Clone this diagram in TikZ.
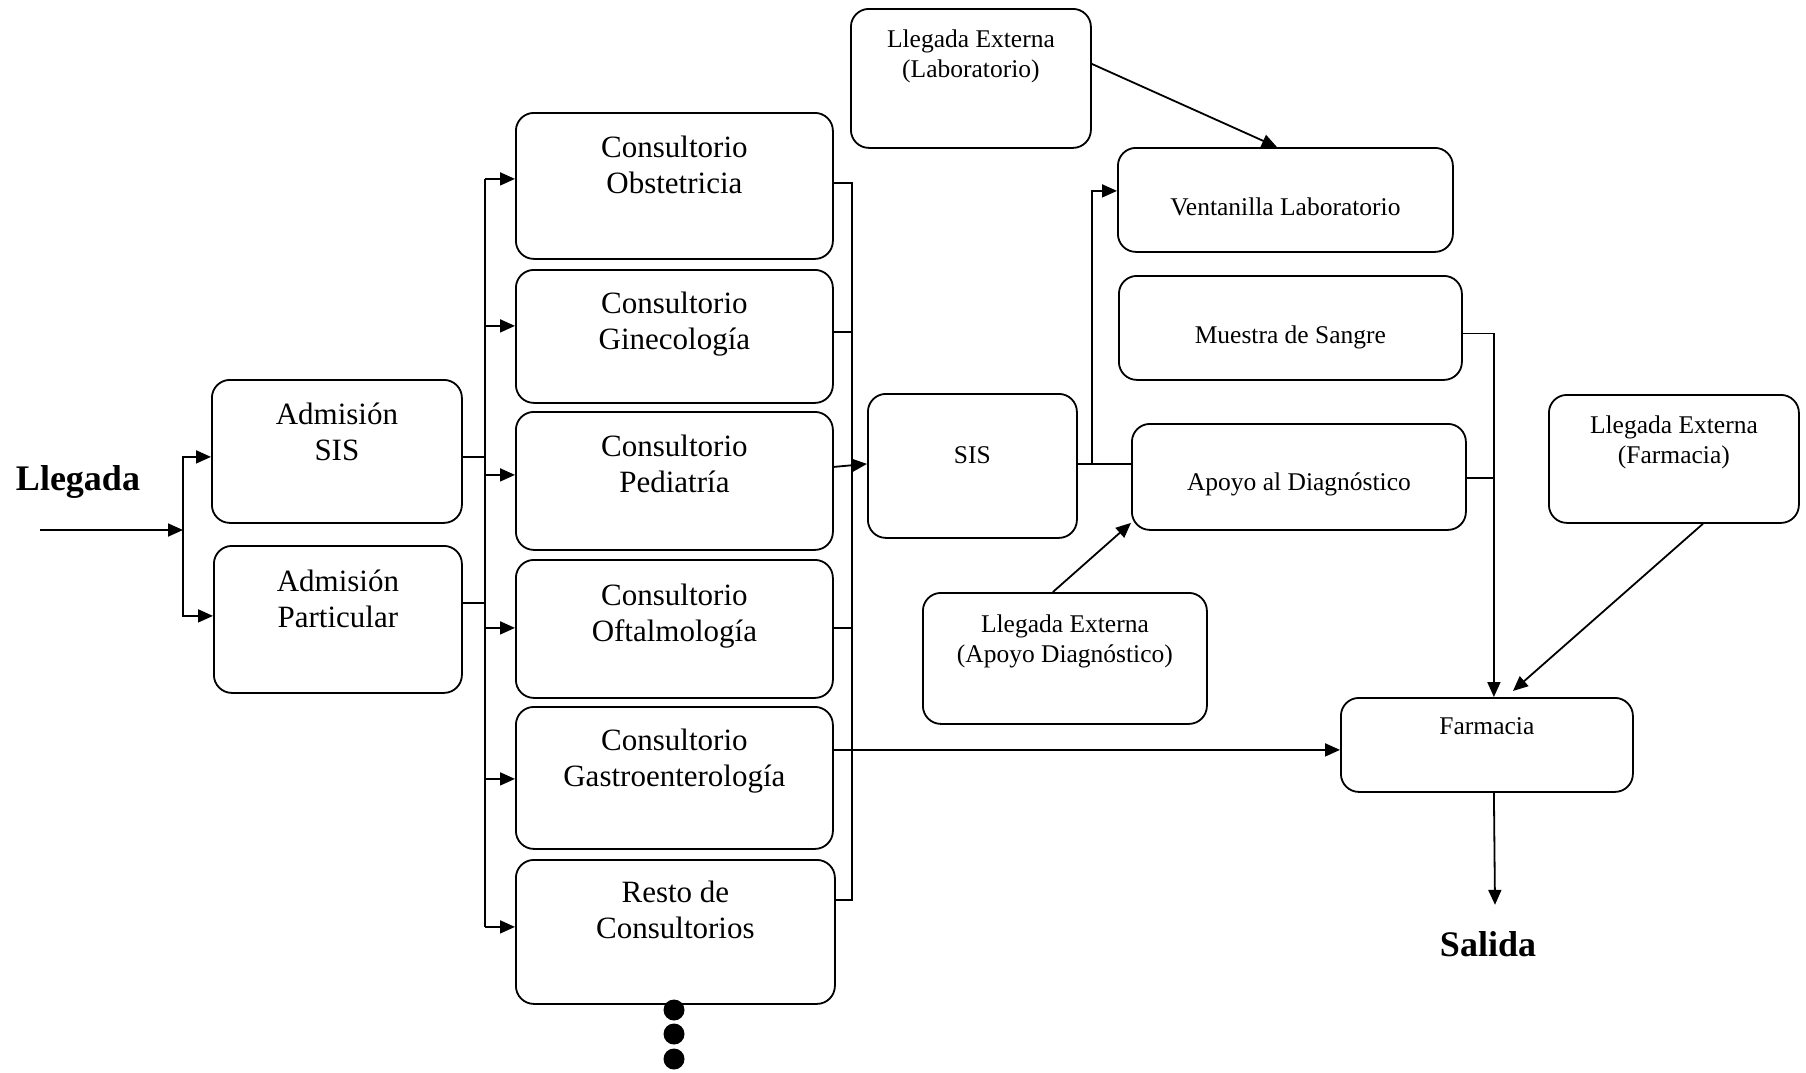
\documentclass[tikz,border=0pt]{standalone}
\usepackage{fontspec}
\setmainfont{Liberation Serif}
\usetikzlibrary{arrows.meta}
\newcommand{\bxt}[4]{\parbox[t][#2pt][t]{#1pt}{\centering\rule{0pt}{#3pt}#4}}
\begin{document}
\begin{tikzpicture}[x=1pt,y=-1pt,
  box/.style={draw, line width=1.8pt, rounded corners=18pt, inner sep=0pt, anchor=north west},
  big/.style={box, font=\fontsize{31}{36}\selectfont},
  small/.style={box, font=\fontsize{25.5}{30}\selectfont},
  ttl/.style={font=\bfseries\fontsize{36}{40}\selectfont, inner sep=0pt, anchor=base},
  ln/.style={line width=1.8pt},
  arr/.style={ln, -{Triangle[length=15pt,width=13pt]}}]
\useasboundingbox (0,0) rectangle (1806,1072);

% nodes
\node[big] (admsis) at (211,379) {\bxt{250}{143}{45}{Admisión\\SIS}};
\node[big] (admpart) at (213,545) {\bxt{248}{147}{46}{Admisión\\Particular}};
\node[big] (obst) at (515,112) {\bxt{317}{146}{45}{Consultorio\\Obstetricia}};
\node[big] (gine) at (515,269) {\bxt{317}{133}{44}{Consultorio\\Ginecología}};
\node[big] (pedi) at (515,411) {\bxt{317}{138}{45}{Consultorio\\Pediatría}};
\node[big] (ofta) at (515,559) {\bxt{317}{138}{46}{Consultorio\\Oftalmología}};
\node[big] (gast) at (515,706) {\bxt{317}{142}{44}{Consultorio\\Gastroenterología}};
\node[big] (resto) at (515,859) {\bxt{319}{144}{43}{Resto de\\Consultorios}};
\node[small] (sis) at (867,393) {\bxt{209}{144}{70}{SIS}};
\node[small] (lleglab) at (850,8) {\bxt{240}{139}{39}{Llegada Externa\\(Laboratorio)}};
\node[small] (vent) at (1117,147) {\bxt{335}{104}{68}{Ventanilla Laboratorio}};
\node[small] (muestra) at (1118,275) {\bxt{343}{104}{68}{Muestra de Sangre}};
\node[small] (apoyo) at (1131,423) {\bxt{334}{106}{67}{Apoyo al Diagnóstico}};
\node[small] (llegapo) at (922,592) {\bxt{284}{131}{40}{Llegada Externa\\(Apoyo Diagnóstico)}};
\node[small] (llegfarm) at (1548,394) {\bxt{250}{128}{39}{Llegada Externa\\(Farmacia)}};
\node[small] (farm) at (1340,697) {\bxt{292}{94}{37}{Farmacia}};
\node[ttl] (llegada) at (78,490) {Llegada};
\node[ttl] (salida) at (1488,956) {Salida};

% input
\coordinate (start) at (40,530);
\coordinate (j1) at (183,530);
\draw[arr] (start) -- (j1);
\draw[arr] (j1) |- ([yshift=-5.5pt]admsis.west);
\draw[arr] (j1) |- ([yshift=3.5pt]admpart.west);

% left bus
\coordinate (busL) at (485,0);
\draw[ln] ([yshift=-5.5pt]admsis.east) -- ([yshift=-5.5pt]admsis.east -| busL);
\draw[ln] ([yshift=16.5pt]admpart.east) -- ([yshift=16.5pt]admpart.east -| busL);
\draw[ln] ([yshift=7pt]obst.west -| busL) -- ([yshift=5pt]resto.west -| busL);
\draw[arr] ([yshift=7pt]obst.west -| busL) -- ([yshift=7pt]obst.west);
\draw[arr] ([yshift=10.5pt]gine.west -| busL) -- ([yshift=10.5pt]gine.west);
\draw[arr] ([yshift=6pt]pedi.west -| busL) -- ([yshift=6pt]pedi.west);
\draw[arr] ([yshift=1pt]ofta.west -| busL) -- ([yshift=1pt]ofta.west);
\draw[arr] ([yshift=-1pt]gast.west -| busL) -- ([yshift=-1pt]gast.west);
\draw[arr] ([yshift=5pt]resto.west -| busL) -- ([yshift=5pt]resto.west);

% right bus
\coordinate (busR) at (852,0);
\draw[ln] ([yshift=3pt]obst.east) -- ([yshift=3pt]obst.east -| busR) -- ([yshift=32pt]resto.east -| busR) -- ([yshift=32pt]resto.east);
\draw[ln] ([yshift=4.5pt]gine.east) -- ([yshift=4.5pt]gine.east -| busR);
\draw[ln] ([yshift=1pt]ofta.east) -- ([yshift=1pt]ofta.east -| busR);
\draw[arr] ([yshift=14pt]pedi.east) -- ([yshift=2pt]sis.west);
\draw[arr] ([yshift=28pt]gast.east) -- ([yshift=28pt]gast.east -| farm.west);

% SIS outputs
\draw[ln] ([yshift=2pt]sis.east) -- ([yshift=2pt]sis.east -| apoyo.west);
\coordinate (br) at ([xshift=14pt,yshift=2pt]sis.east);
\draw[arr] (br) |- ([yshift=9pt]vent.west);
\draw[arr] ([yshift=14.5pt]lleglab.east) -- ([xshift=-8.5pt]vent.north);
\draw[arr] ([xshift=-12pt]llegapo.north) -- ([yshift=-46pt]apoyo.west);

% to farmacia
\coordinate (farmin) at ([xshift=7pt]farm.north);
\draw[arr] ([yshift=-5.5pt]muestra.east) -| (farmin);
\draw[ln] ([yshift=-1pt]apoyo.east) -- ([yshift=-1pt]apoyo.east -| farmin);
\draw[arr] ([xshift=29pt]llegfarm.south) -- ([xshift=26pt,yshift=6pt]farm.north);
\draw[arr] ([xshift=7pt]farm.south) -- ([xshift=7pt,yshift=26pt]salida.north);

% continuation dots
\fill (674,1010) circle[radius=10.5pt];
\fill (674,1034) circle[radius=10.5pt];
\fill (674,1059) circle[radius=10.5pt];
\end{tikzpicture}
\end{document}
